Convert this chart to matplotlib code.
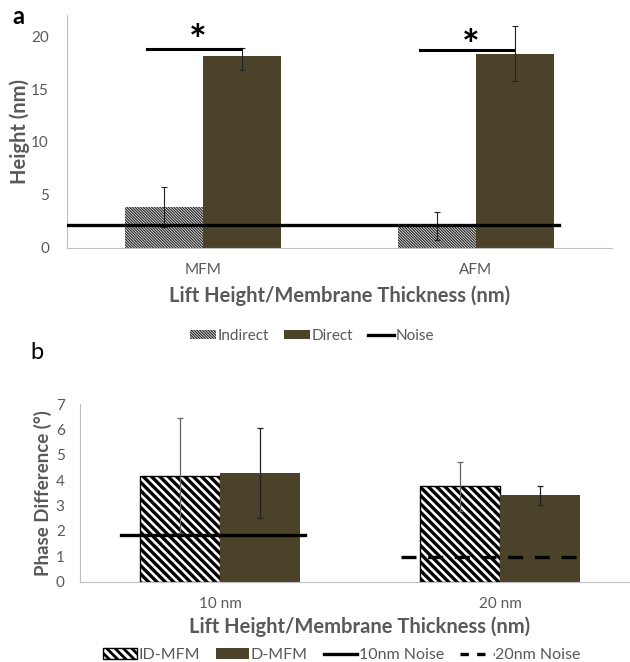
import numpy as np
import matplotlib
matplotlib.use('Agg')
from matplotlib import pyplot as plt
from matplotlib.patches import Patch
from matplotlib.lines import Line2D

# panel a data
cats_a = ['MFM', 'AFM']
indirect = [3.81, 2.05]
indirect_err = [1.9, 1.32]
direct = [18.1, 18.36]
direct_err_lo = [1.3, 2.6]
direct_err_hi = [0.75, 2.64]
noise_a = 2.14
sig_y = [18.77, 18.68]
star_y = [20.4, 19.9]

# panel b data
cats_b = ['10 nm', '20 nm']
id_mfm = [4.18, 3.76]
id_err = [2.26, 0.97]
d_mfm = [4.27, 3.40]
d_err = [1.77, 0.37]
noise_b = [1.84, 0.96]

DIRECT_C = '#4a4329'
GREY = '#595959'
SPINE = '#bfbfbf'
W = 0.286
HATCH_A = '\\' * 12
HATCH_B = '\\' * 4

plt.rcParams['font.family'] = ['Lato', 'DejaVu Sans']

fig = plt.figure(figsize=(6.3, 6.62), dpi=100)


def style_axes(ax):
    for s in ['top', 'right']:
        ax.spines[s].set_visible(False)
    ax.spines['left'].set_color(SPINE)
    ax.spines['bottom'].set_color(SPINE)
    ax.tick_params(length=0, colors=GREY, labelsize=11)


def set_hlw(patches, lw):
    for p in patches:
        if hasattr(p, 'set_hatch_linewidth'):
            p.set_hatch_linewidth(lw)


# ---- panel a
ax1 = fig.add_axes([67 / 630, 1 - 247.7 / 662, 545 / 630, 232.7 / 662])
x = np.arange(len(cats_a))
plt.rcParams['hatch.linewidth'] = 1.0
b1 = ax1.bar(x - W / 2, indirect, W, color='white', edgecolor='#2a2a2a',
             linewidth=0, hatch=HATCH_A, zorder=2)
set_hlw(b1, 0.9)
ax1.bar(x + W / 2, direct, W, color=DIRECT_C, linewidth=0, zorder=2)
ax1.errorbar(x - W / 2, indirect, yerr=indirect_err, fmt='none', ecolor='#222222',
             elinewidth=0.8, capsize=2.5, capthick=0.8, zorder=3)
ax1.errorbar(x + W / 2, direct, yerr=[direct_err_lo, direct_err_hi], fmt='none',
             ecolor='#222222', elinewidth=0.8, capsize=2.5, capthick=0.8, zorder=3)
ax1.plot([-0.5, 1.305], [noise_a, noise_a], color='black', lw=2.4, zorder=4)
for i, yv in enumerate(sig_y):
    ax1.plot([i - 0.205, i + 0.138], [yv, yv], color='black', lw=2.2, zorder=4)
    # asterisk glyph sits ~2.2 units above its baseline
    ax1.text(i - 0.02, star_y[i] - 2.2, '*', ha='center', va='baseline', fontsize=30,
             fontweight='bold', color='black')
ax1.set_xlim(-0.5, 1.5)
ax1.set_ylim(0, 22)
ax1.set_yticks([0, 5, 10, 15, 20])
ax1.set_xticks(x)
ax1.set_xticklabels(cats_a)
style_axes(ax1)
ax1.tick_params(axis='y', pad=13)
ax1.tick_params(axis='x', pad=11)
ax1.set_ylabel('Height (nm)', fontsize=14.5, fontweight='bold', color=GREY, labelpad=1)
ax1.set_xlabel('Lift Height/Membrane Thickness (nm)', fontsize=14.5,
               fontweight='bold', color=GREY, labelpad=6)

h_a = [Patch(facecolor='white', edgecolor='#2a2a2a', linewidth=0, hatch=HATCH_A),
       Patch(facecolor=DIRECT_C, linewidth=0),
       Line2D([0], [0], color='black', lw=2.4)]
leg_a = fig.legend(h_a, ['Indirect', 'Direct', 'Noise'], loc='center',
                   bbox_to_anchor=(312 / 630, 1 - 336 / 662), ncol=3, frameon=False,
                   fontsize=11, handlelength=1.7, handleheight=0.6, handletextpad=0.1,
                   columnspacing=1.0, labelcolor=GREY)
set_hlw(leg_a.get_patches(), 0.9)

fig.text(12 / 630, 1 - 16 / 662, 'a', fontsize=17, fontweight='bold', ha='left', va='center')

# ---- panel b
ax2 = fig.add_axes([80 / 630, 1 - 581.7 / 662, 560 / 630, 177.7 / 662])
xb = np.arange(len(cats_b))
b2 = ax2.bar(xb - W / 2, id_mfm, W, color='white', edgecolor='black',
             linewidth=1.0, hatch=HATCH_B, zorder=2)
set_hlw(b2, 2.4)
ax2.bar(xb + W / 2, d_mfm, W, color=DIRECT_C, linewidth=0, zorder=2)
ax2.errorbar(xb - W / 2, id_mfm, yerr=id_err, fmt='none', ecolor='#666666',
             elinewidth=0.9, capsize=2.5, capthick=0.9, zorder=3)
ax2.errorbar(xb + W / 2, d_mfm, yerr=d_err, fmt='none', ecolor='#222222',
             elinewidth=0.9, capsize=2.5, capthick=0.9, zorder=3)
ax2.plot([xb[0] - 0.352, xb[0] + 0.302], [noise_b[0], noise_b[0]],
         color='black', lw=2.4, zorder=4)
ax2.plot([xb[1] - 0.355, xb[1] + 0.304], [noise_b[1], noise_b[1]],
         color='black', lw=2.4, ls=(0, (4.5, 3.5)), zorder=4)
ax2.set_xlim(-0.5, 1.5)
ax2.set_ylim(0, 7)
ax2.set_yticks(range(8))
ax2.set_xticks(xb)
ax2.set_xticklabels(cats_b)
style_axes(ax2)
ax2.tick_params(axis='y', pad=11)
ax2.tick_params(axis='x', pad=11)
ax2.set_ylabel('Phase Difference (°)', fontsize=13.5, fontweight='bold', color=GREY,
               labelpad=3)
ax2.set_xlabel('Lift Height/Membrane Thickness (nm)', fontsize=14.5,
               fontweight='bold', color=GREY, labelpad=4)

h_b = [Patch(facecolor='white', edgecolor='black', linewidth=1.0, hatch=HATCH_B),
       Patch(facecolor=DIRECT_C, linewidth=0),
       Line2D([0], [0], color='black', lw=2.4),
       Line2D([0], [0], color='black', lw=2.4, ls=(0, (2.5, 2.5)))]
leg_b = fig.legend(h_b, ['ID-MFM', 'D-MFM', '10nm Noise', '20nm Noise'], loc='center',
                   bbox_to_anchor=(342 / 630, 1 - 655 / 662), ncol=4, frameon=False,
                   fontsize=11.5, handlelength=2.1, handleheight=0.7, handletextpad=0.1,
                   columnspacing=1.0, labelcolor=GREY)
set_hlw(leg_b.get_patches(), 2.0)

fig.text(30 / 630, 1 - 353 / 662, 'b', fontsize=17, ha='left', va='center')

fig.savefig('out.png', dpi=100)
